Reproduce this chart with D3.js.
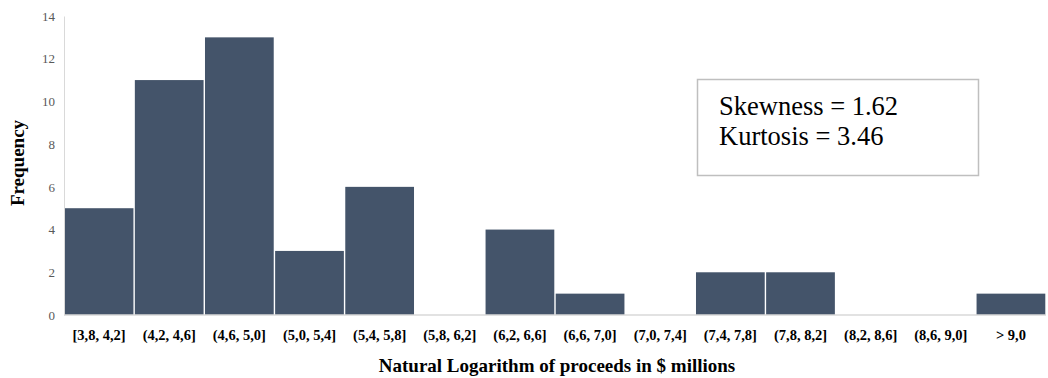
<!DOCTYPE html>
<html><head><meta charset="utf-8">
<script src="https://cdn.jsdelivr.net/npm/d3@7"></script>
<style>body{margin:0;background:#fff}</style>
</head><body>
<svg id="c" width="1048" height="378"></svg>
<script>
const categories = ["[3,8, 4,2]","(4,2, 4,6]","(4,6, 5,0]","(5,0, 5,4]","(5,4, 5,8]","(5,8, 6,2]","(6,2, 6,6]","(6,6, 7,0]","(7,0, 7,4]","(7,4, 7,8]","(7,8, 8,2]","(8,2, 8,6]","(8,6, 9,0]","> 9,0"];
const frequency = [5, 11, 13, 3, 6, 0, 4, 1, 0, 2, 2, 0, 0, 1];
const yTicks = [0, 2, 4, 6, 8, 10, 12, 14];
const statsLines = ["Skewness = 1.62", "Kurtosis = 3.46"];

(function () {
const svg = d3.select("#c");
const serif = "Liberation Serif, Times New Roman, serif";
const mLeft = 64, mRight = 1046, mTop = 16, mBottom = 315;

const x = d3.scaleBand().domain(categories).range([mLeft, mRight]).paddingInner(0.02).paddingOuter(0.01);
const y = d3.scaleLinear().domain([0, 14]).range([mBottom, mTop]);

// bars
svg.append("g").selectAll("rect").data(frequency).join("rect")
  .attr("x", (d, i) => x(categories[i]))
  .attr("width", x.bandwidth())
  .attr("y", d => y(d))
  .attr("height", d => y(0) - y(d))
  .attr("fill", "#44546A");

// y axis
const ya = svg.append("g").attr("transform", `translate(${mLeft},0)`)
  .call(d3.axisLeft(y).tickValues(yTicks).tickSize(0).tickPadding(9));
ya.attr("font-family", serif);
ya.select(".domain").attr("stroke", "#d9d9d9").attr("stroke-width", 1);
ya.selectAll("text").attr("font-family", serif).attr("font-size", 13).attr("fill", "#595959");

// x axis
const xa = svg.append("g").attr("transform", `translate(0,${mBottom})`)
  .call(d3.axisBottom(x).tickSize(0).tickPadding(15));
xa.attr("font-family", serif);
xa.select(".domain").attr("stroke", "#d9d9d9").attr("stroke-width", 1.5).attr("d", `M${mLeft},0H${mRight}`);
xa.selectAll("text").attr("font-family", serif).attr("font-size", 14.5).attr("font-weight", "bold").attr("fill", "#000");

// axis titles
svg.append("text").attr("x", 557).attr("y", 372)
  .attr("text-anchor", "middle").attr("font-family", serif).attr("font-size", 19).attr("font-weight", "bold")
  .text("Natural Logarithm of proceeds in $ millions");
svg.append("text").attr("transform", "translate(24,163) rotate(-90)")
  .attr("text-anchor", "middle").attr("font-family", serif).attr("font-size", 19).attr("font-weight", "bold")
  .text("Frequency");

// stats box
svg.append("rect").attr("x", 697.5).attr("y", 79.5).attr("width", 281).attr("height", 96)
  .attr("fill", "#fff").attr("stroke", "#bfbfbf").attr("stroke-width", 1.5);
svg.append("g").selectAll("text").data(statsLines).join("text")
  .attr("x", 719).attr("y", (d, i) => 115 + i * 30)
  .attr("font-family", serif).attr("font-size", 26.5).attr("fill", "#000")
  .text(d => d);
})();
</script>
</body></html>
